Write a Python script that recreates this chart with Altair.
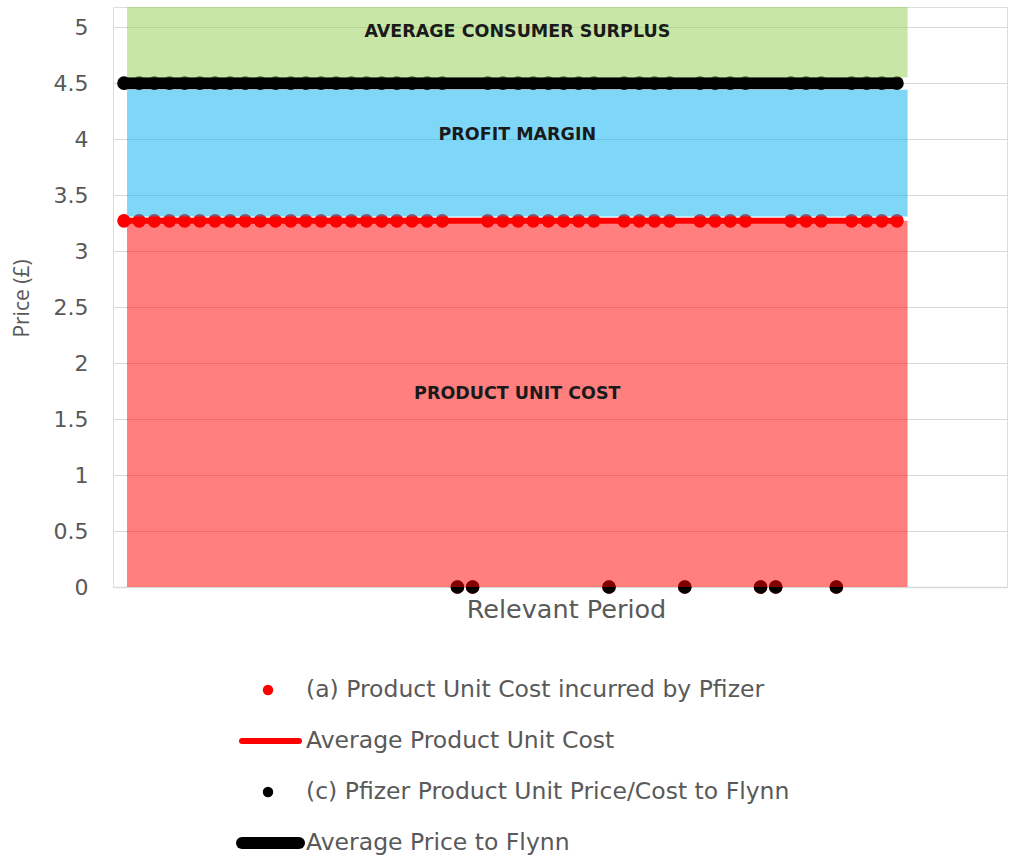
import altair as alt
import pandas as pd

# ---- data -------------------------------------------------------------
periods = list(range(52))

# (a) unit cost incurred by Pfizer per period (0 where no supply)
unit_cost = [
    3.27, 3.27, 3.27, 3.27, 3.27, 3.27, 3.27, 3.27, 3.27, 3.27,
    3.27, 3.27, 3.27, 3.27, 3.27, 3.27, 3.27, 3.27, 3.27, 3.27,
    3.27, 3.27, 0.00, 0.00, 3.27, 3.27, 3.27, 3.27, 3.27, 3.27,
    3.27, 3.27, 0.00, 3.27, 3.27, 3.27, 3.27, 0.00, 3.27, 3.27,
    3.27, 3.27, 0.00, 0.00, 3.27, 3.27, 3.27, 0.00, 3.27, 3.27,
    3.27, 3.27,
]

# (c) unit price charged to Flynn per period
unit_price = [
    4.50, 4.50, 4.50, 4.50, 4.50, 4.50, 4.50, 4.50, 4.50, 4.50,
    4.50, 4.50, 4.50, 4.50, 4.50, 4.50, 4.50, 4.50, 4.50, 4.50,
    4.50, 4.50, 0.00, 0.00, 4.50, 4.50, 4.50, 4.50, 4.50, 4.50,
    4.50, 4.50, 0.00, 4.50, 4.50, 4.50, 4.50, 0.00, 4.50, 4.50,
    4.50, 4.50, 0.00, 0.00, 4.50, 4.50, 4.50, 0.00, 4.50, 4.50,
    4.50, 4.50,
]

avg_cost = 3.27
avg_price = 4.50

# shaded bands
band_names = ["PRODUCT UNIT COST", "PROFIT MARGIN", "AVERAGE CONSUMER SURPLUS"]
band_low = [0.00, 3.31, 4.55]
band_high = [3.27, 4.44, 5.18]
band_label_y = [1.72, 4.04, 4.96]
band_colors = ["#FF0000", "#00B0F0", "#92D050"]
band_start = 0.2
band_end = 51.7

legend_labels = [
    "(a) Product Unit Cost incurred by Pfizer",
    "Average Product Unit Cost",
    "(c) Pfizer Product Unit Price/Cost to Flynn",
    "Average Price to Flynn",
]
legend_kinds = ["dot", "line", "dot", "line"]
legend_colors = ["#FF0000", "#FF0000", "#000000", "#000000"]
legend_widths = [0, 6, 0, 12]

# ---- tables -----------------------------------------------------------
series = pd.DataFrame({
    "period": periods,
    "cost": unit_cost,
    "price": unit_price,
    "avg_cost": [avg_cost] * len(periods),
    "avg_price": [avg_price] * len(periods),
})
bands = pd.DataFrame({
    "name": band_names,
    "low": band_low,
    "high": band_high,
    "label_y": band_label_y,
    "x0": band_start,
    "x1": band_end,
    "xc": (band_start + band_end) / 2,
})

FONT = "DejaVu Sans"
GREY = "#595959"
W, H = 894, 580

xs = alt.Scale(domain=[-0.726, 58.26], nice=False, zero=False)
ys = alt.Scale(domain=[0, 5.18], nice=False, zero=True)

x_axis = alt.Axis(
    title="Relevant Period", labels=False, ticks=False, grid=False,
    domain=True, domainColor="#d9d9d9", domainWidth=1.5,
    titleFontSize=25.5, titleColor=GREY, titleFontWeight="normal",
    titleFont=FONT, titlePadding=10, titleX=453,
)
y_axis = alt.Axis(
    title="Price (£)", values=[0, 0.5, 1, 1.5, 2, 2.5, 3, 3.5, 4, 4.5, 5],
    labelExpr="'' + datum.value", labelFontSize=22, labelColor=GREY,
    labelFont=FONT, labelPadding=25, ticks=False, domain=False,
    grid=True, gridColor="#d9d9d9", gridWidth=1,
    titleFontSize=21, titleColor=GREY, titleFontWeight="normal",
    titleFont="Open Sans", titleX=-91, titleY=291, titleAngle=270,
    titleAlign="center", titleBaseline="middle",
)

base = alt.Chart(series)

cost_dots = base.mark_circle(size=185, color="#FF0000", opacity=1).encode(
    x=alt.X("period:Q", scale=xs, axis=x_axis),
    y=alt.Y("cost:Q", scale=ys, axis=y_axis),
)
cost_line = base.mark_line(color="#FF0000", strokeWidth=6, strokeCap="round").encode(
    x=alt.X("period:Q", scale=xs), y=alt.Y("avg_cost:Q", scale=ys)
)
price_dots = base.mark_circle(size=185, color="#000000", opacity=1).encode(
    x=alt.X("period:Q", scale=xs), y=alt.Y("price:Q", scale=ys)
)
price_line = base.mark_line(color="#000000", strokeWidth=12, strokeCap="round").encode(
    x=alt.X("period:Q", scale=xs), y=alt.Y("avg_price:Q", scale=ys)
)

band_rects = alt.Chart(bands).mark_rect(opacity=0.5).encode(
    x=alt.X("x0:Q", scale=xs), x2="x1:Q",
    y=alt.Y("low:Q", scale=ys), y2="high:Q",
    color=alt.Color("name:N", scale=alt.Scale(domain=band_names, range=band_colors), legend=None),
)
band_text = alt.Chart(bands).mark_text(
    font=FONT, fontSize=17.5, fontWeight="bold", color="#1a1a1a", baseline="middle"
).encode(
    x=alt.X("xc:Q", scale=xs), y=alt.Y("label_y:Q", scale=ys), text="name:N"
)

layers = [cost_dots, cost_line, price_dots, price_line, band_rects, band_text]

# hand-built legend below the plot
one = pd.DataFrame({"k": [0]})
for i, (label, kind, col, sw) in enumerate(zip(legend_labels, legend_kinds, legend_colors, legend_widths)):
    row_y = 683 + 51 * i
    if kind == "dot":
        layers.append(alt.Chart(one).mark_circle(size=110, color=col, opacity=1).encode(
            x=alt.value(155), y=alt.value(row_y)))
    else:
        layers.append(alt.Chart(one).mark_rule(color=col, strokeWidth=sw, strokeCap="round").encode(
            x=alt.value(129), x2=alt.value(186), y=alt.value(row_y)))
    layers.append(alt.Chart(one).mark_text(
        text=label, font=FONT, fontSize=23.5, color=GREY, align="left", baseline="middle"
    ).encode(x=alt.value(193), y=alt.value(row_y)))

chart = alt.layer(*layers).properties(
    width=W, height=H,
    autosize=alt.AutoSizeParams(type="none"),
    padding={"left": 113, "top": 7, "right": 2, "bottom": 274},
).configure_view(stroke=None).configure(background="white")

chart.save("out.html", embed_options={"renderer": "svg", "actions": False})
